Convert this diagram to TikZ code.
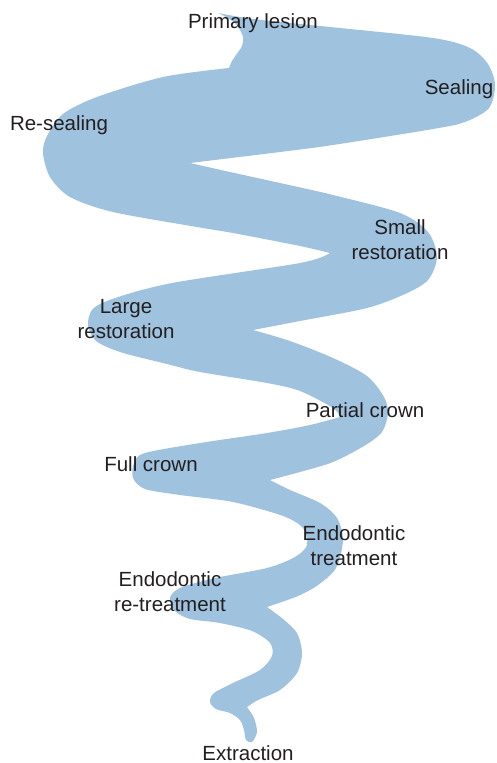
\documentclass[tikz,border=0pt]{standalone}
\usepackage{fontspec}
\setmainfont{Liberation Sans}
\definecolor{ribbonblue}{RGB}{159,194,222}
\definecolor{labelgray}{RGB}{35,31,32}
\begin{document}
\begin{tikzpicture}[x=1pt,y=-1pt,
  stage/.style={anchor=base,inner sep=0pt,align=center,text=labelgray,
    font=\fontsize{20.5}{24.5}\selectfont},
  ribbon/.style={fill=ribbonblue,draw=none}]
\useasboundingbox (0,0) rectangle (496,763);
% the winding band, traced as one closed outline; sharp corners split the smooth runs
\fill[ribbon]
  plot[smooth,tension=0.5] coordinates {(229,68) (232,61) (236,55) (242,46) (243,37) (237,25) (226,17) (218,13)}
  -- plot[smooth,tension=0.5] coordinates {(218,13) (240,17) (270,21) (330,27) (433,38) (470,48) (488,64) (495,85) (489,108) (465,122) (433,129) (333,145) (280,152) (190,163)}
  -- plot[smooth,tension=0.5] coordinates {(190,163) (230,172) (280,183) (333,195) (400,213) (428,232) (437,257) (428,280) (405,294) (367,308) (300,321) (253,330)}
  -- plot[smooth,tension=0.5] coordinates {(253,330) (290,341) (333,358) (367,376) (384,397) (388,413) (382,432) (364,446) (333,462) (300,472) (270,480)}
  -- plot[smooth,tension=0.5] coordinates {(270,480) (290,490) (320,503) (337,518) (343,540) (336,568) (318,585) (298,596) (267,607)}
  -- plot[smooth,tension=0.5] coordinates {(267,607) (283,619) (297,633) (302,653) (297,673) (280,690) (258,700) (247,707)}
  -- plot[smooth,tension=0.5] coordinates {(247,707) (254,718) (257,732) (252,742) (246,740) (244,730) (240,720) (230,713) (216,709) (210,702) (214,693) (233,683) (260,670) (272,656) (270,643) (252,631) (220,623) (190,619) (175,611) (170,598) (180,588) (215,578) (267,568) (295,557) (307,545) (303,528) (283,516) (233,502) (180,495) (145,489) (133,478) (134,463) (145,453) (200,443) (267,433) (310,425) (340,417)}
  -- plot[smooth,tension=0.5] coordinates {(340,417) (333,408) (300,391) (267,383) (200,372) (167,364) (120,352) (95,340) (88,322) (100,304) (167,284) (300,263) (330,253)}
  -- plot[smooth,tension=0.5] coordinates {(330,253) (300,246) (233,233) (197,227) (113,212) (70,197) (50,177) (43,153) (47,136) (63,114) (97,97) (163,77) (229,68)}
  -- cycle;
% stage labels along the band (multi-line labels sit on the baseline of their last line)
\node[stage] (primary) at (253,28) {Primary lesion};
\node[stage] (sealing) at (459,94) {Sealing};
\node[stage] (resealing) at (59,130) {Re-sealing};
\node[stage] (small) at (400,259) {Small\\restoration};
\node[stage] (large) at (126,338) {Large\\restoration};
\node[stage] (partial) at (365,417) {Partial crown};
\node[stage] (full) at (151,471) {Full crown};
\node[stage] (endo) at (354,565) {Endodontic\\treatment};
\node[stage] (reendo) at (170,611) {Endodontic\\re-treatment};
\node[stage] (extraction) at (248,760) {Extraction};
\end{tikzpicture}
\end{document}
